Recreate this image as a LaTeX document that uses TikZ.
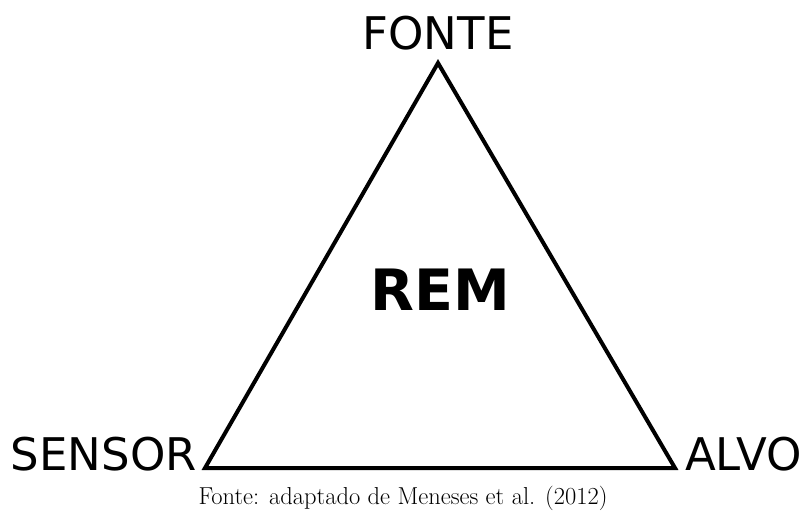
\documentclass[tikz,border=0pt]{standalone}
\usepackage{fontspec}
\newfontfamily\dejavu{DejaVu Sans}
\begin{document}
\begin{tikzpicture}[x=1pt,y=-1pt,
  lbl/.style={font=\dejavu\fontsize{45}{48}\selectfont, inner sep=0pt},
  tri/.style={draw=black, line width=4pt, line join=miter}]
\useasboundingbox (0,0) rectangle (803,513);
\coordinate (top) at (438,63);
\coordinate (bl) at (205,468);
\coordinate (br) at (675,468);
\draw[tri] (top) -- (bl) -- (br) -- cycle;
\node[lbl, anchor=base] (fonte) at (438,50) {FONTE};
\node[lbl, anchor=base east] (sensor) at (197,470) {SENSOR};
\node[lbl, anchor=base west] (alvo) at (685,470) {ALVO};
\node[inner sep=0pt, anchor=base, font=\dejavu\bfseries\fontsize{57}{60}\selectfont] (rem) at (440,310) {REM};
\node[inner sep=0pt, anchor=base, font=\fontsize{24.5}{28}\selectfont] (cap) at (403,504) {Fonte: adaptado de Meneses et al. (2012)};
\end{tikzpicture}
\end{document}
